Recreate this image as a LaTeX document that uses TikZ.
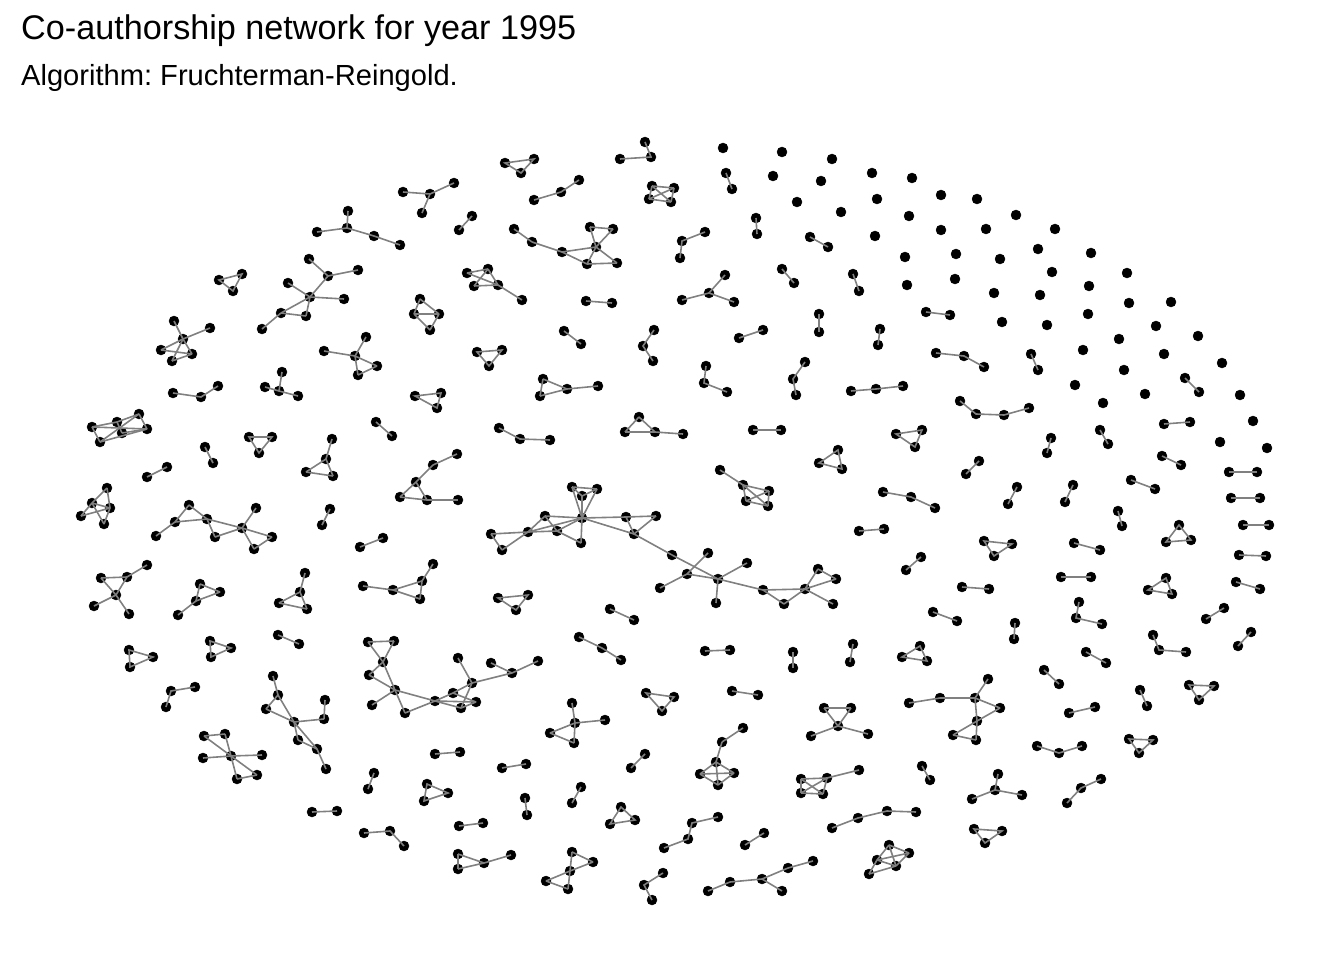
\documentclass[tikz,border=0pt]{standalone}
\usepackage{fontspec}
\setmainfont{Liberation Sans}
\frenchspacing
\definecolor{edgegray}{HTML}{808080}
\tikzset{
  v/.style={circle,fill=black,draw=black,inner sep=0pt,minimum size=10pt},
  e/.style={draw=edgegray,line width=1.6pt},
  ttl/.style={anchor=base west,inner sep=0pt}
}
\newcommand\gN[3]{\node[v] (#1) at (#2,#3) {};}
\newcommand\gE[1]{\foreach \ua/\ub in {#1} \draw[e] (\ua.center)--(\ub.center);}
\begin{document}
\begin{tikzpicture}[x=1pt,y=-1pt]
\useasboundingbox (0,0) rectangle (1344,960);
\node[ttl] (title) at (21,40) {\fontsize{34.2}{40}\selectfont Co-authorship network for year 1995};
\node[ttl] (subtitle) at (21,86) {\fontsize{29.1}{34}\selectfont Algorithm: Fruchterman-Reingold.};

% isolated authors
\foreach \x/\y [count=\k] in {723/148,782/152,832/159,872/173,912/178,773/176,821/181,941/195,977/199,797/202,877/199,841/212,909/216,1016/215,875/236,941/230,986/229,1055/229,905/257,956/254,1038/249,1091/253,1000/259,1052/272,1127/273,907/285,955/279,994/293,1040/295,1089/286,1129/303,1171/302,1002/322,1047/325,1088/314,1156/326,1198/336,1083/350,1119/339,1164/354,1222/363,1124/370,1075/385,1145/394,1240/395,1103/403,1253/421,1220/442,1267/448}
  {\node[v] (iso\k) at (\x,\y) {};}

% pairs
\foreach \xa/\ya/\xb/\yb [count=\k] in {726/173/732/189,459/230/472/216,756/218/757/234,810/237/828/247,782/269/794/283,853/274/859/291,586/301/612/303,819/314/819/332,926/312/950/315,564/331/581/344,739/338/763/330,880/329/878/345,1031/354/1038/370,1185/378/1199/392,376/422/392/436,753/430/781/430,1164/424/1190/422,1100/430/1108/444,1051/438/1047/453,205/447/213/463,1162/456/1181/465,979/461/966/474,1229/472/1257/472,147/477/167/467,1131/480/1155/489,1017/487/1008/504,1073/485/1065/502,1231/498/1260/498,330/509/322/525,1118/511/1122/526,1243/525/1269/525,859/531/884/529,1074/543/1100/550,360/547/383/538,1239/555/1266/556,921/557/906/570,1061/577/1091/577,1236/582/1260/589,962/587/989/589,610/609/634/620,933/612/957/621,1224/608/1206/619,1015/623/1014/639,1251/632/1238/646,278/635/299/644,705/651/730/650,793/652/793/668,853/644/850/662,1086/652/1106/663,1044/670/1059/684,732/691/758/695,1140/690/1147/706,1069/713/1095/707,435/754/460/752,502/768/526/764,645/754/631/768,922/766/930/780,374/773/368/789,525/798/527/815,581/787/572/803,312/812/337/811,459/826/483/823,745/845/764/833}
  {\node[v] (pa\k) at (\xa,\ya) {}; \node[v] (pb\k) at (\xb,\yb) {}; \draw[e] (pa\k.center)--(pb\k.center);}

% chains of three
\foreach \xa/\ya/\xb/\yb/\xc/\yc [count=\k] in {534/200/561/192/579/180,705/232/682/241/680/258,654/330/643/346/653/361,173/393/201/397/218/386,706/366/704/383/727/392,805/362/793/379/796/395,851/391/876/389/903/386,499/428/520/439/550/440,883/492/911/497/935/508,579/637/602/648/621/660,1079/602/1076/618/1102/624,1153/635/1159/650/1186/652,195/687/171/691/166/707,1037/746/1059/753/1082/746,1067/803/1081/788/1101/779,364/833/390/831/404/846,663/873/644/885/652/900,936/353/964/356/984/367,645/142/651/157/620/159}
  {\node[v] (ca\k) at (\xa,\ya) {}; \node[v] (cb\k) at (\xb,\yb) {}; \node[v] (cc\k) at (\xc,\yc) {};
   \draw[e] (ca\k.center)--(cb\k.center)--(cc\k.center);}

% chains of four
\foreach \xa/\ya/\xb/\yb/\xc/\yc/\xd/\yd [count=\k] in {960/401/976/414/1004/415/1029/408,664/848/688/839/692/823/718/817,832/828/858/818/887/811/916/812}
  {\node[v] (fa\k) at (\xa,\ya) {}; \node[v] (fb\k) at (\xb,\yb) {}; \node[v] (fc\k) at (\xc,\yc) {}; \node[v] (fd\k) at (\xd,\yd) {};
   \draw[e] (fa\k.center)--(fb\k.center)--(fc\k.center)--(fd\k.center);}

% triangles
\foreach \xa/\ya/\xb/\yb/\xc/\yc [count=\k] in {505/163/534/159/521/173,219/280/242/274/233/291,477/352/502/350/489/366,415/396/441/393/437/408,249/437/272/437/259/453,896/434/922/430/915/447,838/450/819/463/842/469,1179/525/1166/542/1191/540,984/541/1012/544/994/556,498/598/528/595/516/610,1166/578/1148/590/1172/594,129/650/153/657/130/667,210/641/231/648/211/657,920/646/902/657/927/661,646/693/674/697/662/711,1189/685/1214/686/1199/700,1129/739/1153/740/1139/753,427/784/448/793/424/801,621/807/610/824/635/820,974/829/1002/831/985/843}
  {\node[v] (ta\k) at (\xa,\ya) {}; \node[v] (tb\k) at (\xb,\yb) {}; \node[v] (tc\k) at (\xc,\yc) {};
   \draw[e] (ta\k.center)--(tb\k.center)--(tc\k.center)--cycle;}

% stars
\gN{sa0}{430}{194}\gN{sa1}{403}{192}\gN{sa2}{454}{183}\gN{sa3}{422}{213}
\gE{sa0/sa1,sa0/sa2,sa0/sa3}
\gN{sb0}{709}{293}\gN{sb1}{725}{275}\gN{sb2}{682}{300}\gN{sb3}{734}{302}
\gE{sb0/sb1,sb0/sb2,sb0/sb3}
\gN{sc0}{279}{391}\gN{sc1}{282}{372}\gN{sc2}{265}{387}\gN{sc3}{298}{396}
\gE{sc0/sc1,sc0/sc2,sc0/sc3}
\gN{sd0}{995}{790}\gN{sd1}{972}{799}\gN{sd2}{998}{774}\gN{sd3}{1022}{795}
\gE{sd0/sd1,sd0/sd2,sd0/sd3}

% small components
\gN{a1}{348}{211}\gN{a2}{347}{228}\gN{a3}{317}{232}\gN{a4}{374}{236}\gN{a5}{400}{245}
\gE{a1/a2,a3/a2,a2/a4,a4/a5}
\gN{tt1}{639}{417}\gN{tt2}{625}{432}\gN{tt3}{655}{432}\gN{tt4}{683}{434}
\gE{tt1/tt2,tt1/tt3,tt2/tt3,tt3/tt4}
\gN{k1}{652}{186}\gN{k2}{674}{188}\gN{k3}{649}{199}\gN{k4}{671}{202}
\gE{k1/k2,k1/k3,k1/k4,k2/k3,k2/k4,k3/k4}
\gN{m1}{543}{379}\gN{m2}{540}{396}\gN{m3}{567}{389}\gN{m4}{598}{386}
\gE{m1/m3,m2/m3,m3/m4,m1/m2}
\gN{r1}{332}{439}\gN{r2}{326}{459}\gN{r3}{306}{472}\gN{r4}{333}{476}
\gE{r1/r2,r2/r3,r2/r4,r3/r4}
\gN{ee1}{366}{337}\gN{ee2}{324}{351}\gN{ee3}{355}{356}\gN{ee4}{377}{366}\gN{ee5}{358}{375}
\gE{ee1/ee3,ee2/ee3,ee3/ee4,ee3/ee5,ee4/ee5}
\gN{d1}{174}{321}\gN{d2}{210}{328}\gN{d3}{183}{339}\gN{d4}{161}{350}\gN{d5}{192}{354}\gN{d6}{172}{361}
\gE{d1/d3,d2/d3,d3/d4,d3/d6,d3/d5,d4/d5,d5/d6}
\gN{c1}{309}{259}\gN{c2}{328}{276}\gN{c3}{358}{270}\gN{c4}{288}{283}\gN{c5}{310}{297}\gN{c6}{344}{299}\gN{c7}{281}{313}\gN{c8}{306}{316}\gN{c9}{262}{329}
\gE{c1/c2,c2/c3,c2/c5,c4/c5,c5/c6,c5/c7,c5/c8,c7/c8,c7/c9}
\gN{f1}{514}{229}\gN{f2}{532}{242}\gN{f3}{562}{252}\gN{f4}{596}{247}\gN{f5}{590}{227}\gN{f6}{613}{229}\gN{f7}{587}{264}\gN{f8}{617}{263}
\gE{f1/f2,f2/f3,f3/f4,f3/f7,f4/f5,f4/f6,f5/f6,f4/f7,f4/f8,f7/f8}
\gN{g1}{467}{273}\gN{g2}{488}{269}\gN{g3}{474}{286}\gN{g4}{498}{285}\gN{g5}{522}{300}
\gE{g1/g2,g1/g4,g2/g3,g3/g4,g2/g4,g4/g5}
\gN{h1}{420}{299}\gN{h2}{414}{314}\gN{h3}{439}{314}\gN{h4}{430}{330}
\gE{h1/h2,h1/h3,h2/h3,h2/h4,h3/h4}
\gN{i1}{92}{427}\gN{i2}{117}{422}\gN{i3}{139}{414}\gN{i4}{100}{442}\gN{i5}{122}{433}\gN{i6}{147}{429}
\gE{i1/i2,i2/i3,i1/i6,i4/i3,i4/i6,i2/i5,i5/i6,i3/i6,i1/i4}
\gN{j1}{107}{488}\gN{j2}{92}{503}\gN{j3}{110}{508}\gN{j4}{81}{516}\gN{j5}{104}{524}
\gE{j1/j2,j1/j3,j2/j3,j2/j4,j4/j3,j2/j5,j3/j5}
\gN{kk1}{189}{505}\gN{kk2}{175}{522}\gN{kk3}{207}{519}\gN{kk4}{156}{536}\gN{kk5}{215}{537}\gN{kk6}{256}{508}\gN{kk7}{242}{528}\gN{kk8}{272}{537}\gN{kk9}{254}{549}
\gE{kk1/kk2,kk1/kk3,kk2/kk3,kk2/kk4,kk3/kk5,kk3/kk7,kk5/kk7,kk6/kk7,kk7/kk8,kk8/kk9,kk7/kk9}
\gN{l1}{101}{578}\gN{l2}{127}{577}\gN{l3}{147}{565}\gN{l4}{116}{595}\gN{l5}{94}{606}\gN{l6}{129}{614}
\gE{l1/l2,l2/l3,l1/l4,l2/l4,l4/l5,l4/l6}
\gN{mm1}{200}{584}\gN{mm2}{220}{592}\gN{mm3}{196}{601}\gN{mm4}{178}{615}
\gE{mm1/mm2,mm1/mm3,mm2/mm3,mm3/mm4}
\gN{n1}{305}{573}\gN{n2}{300}{592}\gN{n3}{279}{603}\gN{n4}{307}{609}
\gE{n1/n2,n2/n3,n2/n4,n3/n4}
\gN{o1}{457}{454}\gN{o2}{433}{465}\gN{o3}{416}{482}\gN{o4}{400}{497}\gN{o5}{427}{500}\gN{o6}{458}{500}
\gE{o1/o2,o2/o3,o3/o4,o3/o5,o4/o5,o5/o6}
\gN{rr1}{720}{470}\gN{rr2}{743}{485}\gN{rr3}{769}{491}\gN{rr4}{746}{501}\gN{rr5}{768}{506}
\gE{rr1/rr2,rr2/rr3,rr2/rr4,rr3/rr4,rr4/rr5,rr3/rr5,rr2/rr5}
\gN{qa1}{433}{564}\gN{qa2}{422}{581}\gN{qa3}{393}{590}\gN{qa4}{420}{599}\gN{qa5}{363}{586}
\gE{qa1/qa2,qa2/qa3,qa3/qa4,qa2/qa4,qa3/qa5}

% largest component
\gN{p1}{572}{487}\gN{p2}{597}{489}\gN{p3}{582}{496}\gN{p4}{582}{518}\gN{p5}{545}{516}\gN{p6}{626}{517}\gN{p7}{656}{516}\gN{p8}{634}{534}\gN{p9}{528}{532}\gN{p10}{557}{531}\gN{p11}{581}{543}\gN{p12}{491}{534}\gN{p13}{502}{550}
\gN{q1}{672}{555}\gN{q2}{708}{553}\gN{q3}{687}{574}\gN{q4}{718}{579}\gN{q5}{747}{563}\gN{q6}{716}{603}\gN{q7}{763}{590}\gN{q8}{784}{604}\gN{q9}{805}{589}\gN{q10}{818}{569}\gN{q11}{836}{579}\gN{q12}{833}{604}\gN{q13}{660}{588}
\gE{p1/p2,p1/p3,p2/p3,p1/p4,p2/p4,p3/p4,p4/p5,p4/p6,p4/p8,p4/p11,p4/p9,p4/p10,p5/p9,p5/p10,p9/p10,p10/p11,p9/p12,p12/p13,p13/p9,p6/p7,p7/p8,p6/p8}
\gE{p8/q1,q1/q4,q2/q3,q3/q4,q3/q13,q4/q5,q4/q6,q4/q7,q7/q9,q7/q8,q8/q9,q9/q10,q9/q11,q10/q11,q9/q12}

% lower components
\gN{sx1}{204}{736}\gN{sx2}{225}{734}\gN{sx3}{203}{758}\gN{sx4}{231}{756}\gN{sx5}{262}{755}\gN{sx6}{237}{779}\gN{sx7}{257}{775}
\gE{sx1/sx2,sx1/sx4,sx2/sx4,sx3/sx4,sx4/sx5,sx4/sx6,sx4/sx7,sx6/sx7}
\gN{tx1}{273}{676}\gN{tx2}{278}{695}\gN{tx3}{266}{709}\gN{tx4}{294}{722}\gN{tx5}{325}{700}\gN{tx6}{324}{719}\gN{tx7}{298}{740}\gN{tx8}{317}{749}\gN{tx9}{326}{769}
\gE{tx1/tx2,tx2/tx3,tx2/tx4,tx3/tx4,tx4/tx6,tx5/tx6,tx4/tx7,tx4/tx8,tx7/tx8,tx8/tx9}
\gN{u1}{368}{642}\gN{u2}{394}{641}\gN{u3}{383}{662}\gN{u4}{369}{675}\gN{u5}{395}{690}\gN{u6}{372}{705}\gN{u7}{405}{713}\gN{u8}{435}{701}\gN{u9}{453}{693}\gN{u10}{461}{708}\gN{u11}{476}{702}\gN{u12}{472}{683}\gN{u13}{458}{658}\gN{u14}{491}{663}\gN{u15}{512}{673}\gN{u16}{538}{661}
\gE{u1/u3,u2/u3,u1/u2,u3/u4,u3/u5,u4/u5,u5/u6,u5/u8,u5/u7,u7/u8,u8/u9,u8/u10,u8/u11,u9/u11,u9/u12,u10/u12,u10/u11,u12/u13,u12/u15,u14/u15,u15/u16}
\gN{vx1}{572}{703}\gN{vx2}{575}{723}\gN{vx3}{605}{720}\gN{vx4}{550}{733}\gN{vx5}{574}{743}
\gE{vx1/vx2,vx2/vx3,vx2/vx4,vx2/vx5,vx4/vx5}
\gN{w1}{458}{854}\gN{w2}{484}{863}\gN{w3}{511}{855}\gN{w4}{458}{869}
\gE{w1/w2,w2/w3,w4/w2,w1/w4}
\gN{x1}{572}{852}\gN{x2}{593}{862}\gN{x3}{570}{871}\gN{x4}{546}{881}\gN{x5}{568}{889}
\gE{x1/x2,x1/x3,x2/x3,x3/x4,x3/x5,x4/x5}
\gN{y1}{824}{708}\gN{y2}{851}{708}\gN{y3}{838}{726}\gN{y4}{811}{736}\gN{y5}{868}{734}
\gE{y1/y2,y1/y3,y2/y3,y3/y4,y3/y5}
\gN{z1}{909}{703}\gN{z2}{940}{698}\gN{z3}{975}{698}\gN{z4}{988}{679}\gN{z5}{1000}{708}\gN{z6}{977}{721}\gN{z7}{953}{735}\gN{z8}{976}{740}
\gE{z1/z2,z2/z3,z3/z4,z3/z5,z3/z6,z5/z6,z6/z7,z7/z8,z6/z8}
\gN{cA1}{743}{728}\gN{cA2}{722}{742}\gN{cA3}{716}{762}\gN{cA4}{700}{774}\gN{cA5}{734}{773}\gN{cA6}{718}{785}
\gE{cA1/cA2,cA2/cA3,cA3/cA4,cA3/cA5,cA3/cA6,cA4/cA5,cA4/cA6,cA5/cA6}
\gN{cB1}{801}{779}\gN{cB2}{827}{778}\gN{cB3}{859}{770}\gN{cB4}{801}{793}\gN{cB5}{823}{794}
\gE{cB1/cB2,cB2/cB3,cB1/cB4,cB4/cB5,cB1/cB5,cB2/cB4,cB2/cB5}
\gN{cC1}{889}{845}\gN{cC2}{909}{853}\gN{cC3}{877}{860}\gN{cC4}{896}{866}\gN{cC5}{869}{874}
\gE{cC1/cC2,cC1/cC3,cC1/cC4,cC2/cC3,cC3/cC4,cC2/cC4,cC3/cC5,cC5/cC4}
\gN{cD1}{708}{891}\gN{cD2}{730}{882}\gN{cD3}{762}{879}\gN{cD4}{788}{868}\gN{cD5}{813}{861}\gN{cD6}{782}{891}
\gE{cD1/cD2,cD2/cD3,cD3/cD4,cD4/cD5,cD3/cD6}
\end{tikzpicture}
\end{document}
